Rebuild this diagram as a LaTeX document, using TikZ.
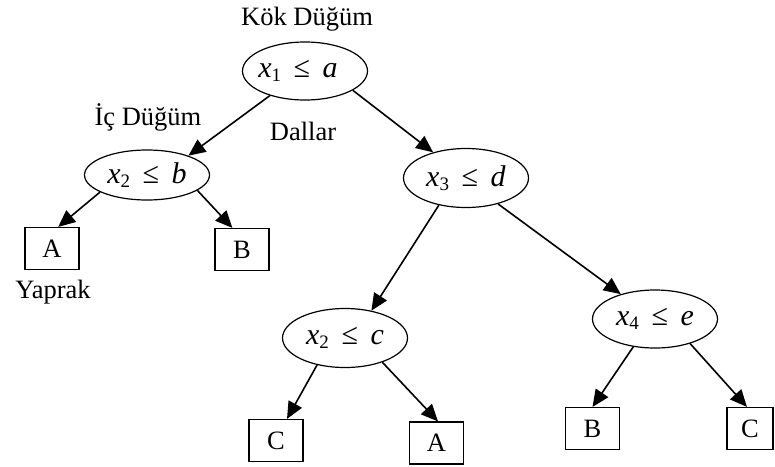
\documentclass[tikz,border=0pt]{standalone}
\usepackage{fontspec}
\setmainfont{Liberation Serif}
\usetikzlibrary{shapes.geometric,arrows.meta}
\newcommand{\cnd}[3]{\textit{#1}\raisebox{-0.3ex}{\fontsize{19}{19}\selectfont #2}\hspace{0.42em}≤\hspace{0.42em}\textit{#3}}
\begin{document}
\begin{tikzpicture}[x=1pt,y=-1pt,
  dec/.style={draw, ellipse, line width=1.2pt, minimum width=125pt, minimum height=58pt, inner sep=0pt, font=\fontsize{30}{30}\selectfont},
  leaf/.style={draw, rectangle, line width=1.2pt, minimum width=54pt, minimum height=42pt, inner sep=0pt, font=\fontsize{26.5}{26.5}\selectfont},
  lbl/.style={anchor=base, inner sep=0pt, font=\fontsize{26.5}{26.5}\selectfont},
  arr/.style={line width=1.6pt, -{Triangle[length=17pt,width=15pt]}}]
\useasboundingbox (0,0) rectangle (775,466);
\node[dec] (r) at (305,71) {\hspace*{-14pt}\cnd{x}{1}{a}};
\node[dec, minimum height=50pt] (nb) at (147,175) {\cnd{x}{2}{b}};
\node[dec, minimum height=59pt] (nd) at (466,178) {\cnd{x}{3}{d}};
\node[dec, minimum height=59pt] (nc) at (345,338) {\cnd{x}{2}{c}};
\node[dec] (ne) at (655,319) {\cnd{x}{4}{e}};
\node[leaf] (la1) at (52,248.5) {A};
\node[leaf] (lb1) at (242,249.5) {B};
\node[leaf] (lc2) at (276,440.5) {C};
\node[leaf] (la2) at (436.5,443) {A};
\node[leaf] (lb3) at (592.5,428.5) {B};
\node[leaf, minimum width=46pt] (lc3) at (750,428.5) {C};
\node[lbl] (tk) at (307,25) {Kök Düğüm};
\node[lbl] (ti) at (148,125) {İç Düğüm};
\node[lbl] (td) at (303,140) {Dallar};
\node[lbl] (ty) at (53,298) {Yaprak};
\draw[arr] (r.215) -- (nb.25);
\draw[arr] (r.338) -- (nd.142);
\draw[arr] (nb.200) -- (la1.74);
\draw[arr] (nb.343) -- (lb1.114);
\draw[arr] (nd.225) -- (nc.46);
\draw[arr] (nd.321) -- (ne.144);
\draw[arr] (nc.224) -- (lc2.63);
\draw[arr] (nc.327) -- (la2.86);
\draw[arr] (ne.232) -- (lb3.90);
\draw[arr] (ne.325) -- (lc3.98);
\end{tikzpicture}
\end{document}
